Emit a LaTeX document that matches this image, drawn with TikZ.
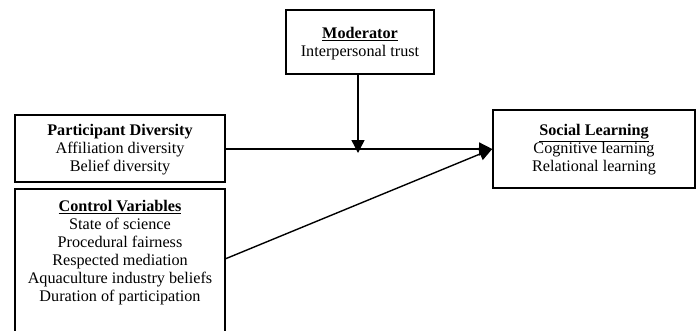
\documentclass[tikz,border=0pt]{standalone}
\usepackage{fontspec}
\setmainfont{Liberation Serif}
\usetikzlibrary{arrows.meta}
\begin{document}
\begin{tikzpicture}[x=1pt,y=-1pt,
  box/.style={draw=black, line width=1.6pt, inner sep=0pt},
  txt/.style={align=center, inner sep=0pt, font=\fontsize{16.2}{18}\selectfont},
  conn/.style={line width=1.4pt, -{Triangle[length=13pt,width=13pt]}}]
\clip (0,0) rectangle (696,330);
\useasboundingbox (0,0) rectangle (696,330);
\node[box, minimum width=148pt, minimum height=64pt] (mod) at (360,42) {};
\node[txt] (modt) at (360,43.5) {\textbf{\underline{Moderator}}\\Interpersonal trust};
\node[box, minimum width=210pt, minimum height=67pt] (pd) at (120,148.5) {};
\node[txt] (pdt) at (120,150) {\textbf{Participant Diversity}\\Affiliation diversity\\Belief diversity};
\node[box, minimum width=210pt, minimum height=160pt, anchor=north] (cv) at (120,188) {};
\node[txt, anchor=north] (cvt) at (120,200) {\textbf{\underline{Control Variables}}\\State of science\\Procedural fairness\\Respected mediation\\Aquaculture industry beliefs\\Duration of participation};
\node[box, minimum width=202pt, minimum height=78pt] (sl) at (594,149) {};
\node[txt] (slt) at (594,150) {\textbf{\underline{Social Learning}}\\Cognitive learning\\Relational learning};
\coordinate (mid) at (358,149);
\coordinate (cvout) at (225,259);
\draw[conn] (pd.east |- mid) -- (sl.west |- mid);
\draw[conn] (cvout) -- (sl.west |- mid);
\draw[conn] (mod.south -| mid) -- ([yshift=-4pt]mid);
\end{tikzpicture}
\end{document}
